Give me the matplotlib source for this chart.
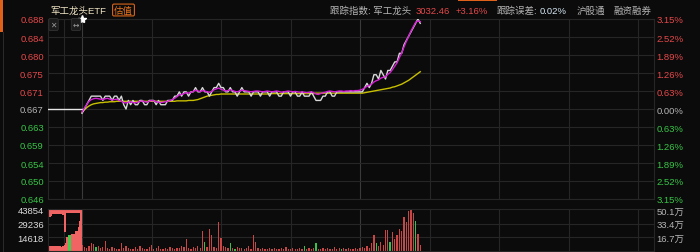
import numpy as np
import matplotlib
matplotlib.use("Agg")
import matplotlib.pyplot as plt
from matplotlib.patches import Rectangle

plt.rcParams['font.family'] = ['Liberation Sans', 'Noto Sans CJK SC', 'DejaVu Sans']

# 数据
prev_close = 0.667
pct_ticks = [-3.15, -2.52, -1.89, -1.26, -0.63, 0.00, 0.63, 1.26, 1.89, 2.52, 3.15]

price = [0.666, 0.667, 0.668, 0.669, 0.670, 0.670,
         0.670, 0.670, 0.670, 0.669, 0.670, 0.670, 0.670, 0.669, 0.670, 0.670, 0.669, 0.670,
         0.668, 0.667,
         0.669, 0.668, 0.669, 0.668, 0.668, 0.669, 0.669, 0.668, 0.668, 0.669, 0.669, 0.669,
         0.668, 0.669, 0.668, 0.668, 0.668, 0.669,
         0.669, 0.669, 0.670, 0.670, 0.671, 0.670, 0.671,
         0.671, 0.670, 0.671, 0.671, 0.672, 0.671, 0.671, 0.672, 0.671, 0.671, 0.670, 0.671,
         0.672, 0.672, 0.673, 0.672,
         0.672, 0.671, 0.671, 0.672, 0.671, 0.671, 0.670, 0.671, 0.672, 0.671, 0.671, 0.671,
         0.670, 0.671, 0.671,
         0.671, 0.670, 0.671, 0.671, 0.671, 0.670, 0.671, 0.671, 0.671, 0.670, 0.670, 0.671,
         0.671, 0.671, 0.670, 0.671, 0.671, 0.670, 0.670, 0.671, 0.670, 0.670, 0.670, 0.671,
         0.670, 0.669, 0.669, 0.669,
         0.670, 0.670, 0.671, 0.671, 0.670, 0.670, 0.671, 0.671, 0.671, 0.671, 0.671, 0.671,
         0.671, 0.671, 0.671, 0.671,
         0.671, 0.671, 0.672, 0.673, 0.672, 0.673, 0.675, 0.675, 0.674, 0.676, 0.675, 0.674,
         0.676, 0.676, 0.677, 0.678, 0.678, 0.680, 0.680, 0.682, 0.683, 0.684, 0.685, 0.686,
         0.687, 0.688, 0.687]

index_line = [0.6663, 0.6672, 0.6680, 0.6688, 0.6692, 0.6694,
              0.6695, 0.6694, 0.6693, 0.6692, 0.6694, 0.6695, 0.6693, 0.6691, 0.6692, 0.6693,
              0.6690, 0.6688,
              0.6685, 0.6684,
              0.6686, 0.6687, 0.6685, 0.6684, 0.6686, 0.6688, 0.6689, 0.6687, 0.6686, 0.6688,
              0.6690, 0.6689, 0.6687, 0.6686, 0.6685, 0.6686, 0.6687, 0.6688,
              0.6690, 0.6692, 0.6695, 0.6699, 0.6703, 0.6704, 0.6706,
              0.6708, 0.6707, 0.6709, 0.6711, 0.6714, 0.6712, 0.6711, 0.6713, 0.6712, 0.6710,
              0.6709, 0.6711, 0.6715, 0.6717, 0.6719, 0.6716,
              0.6714, 0.6712, 0.6713, 0.6715, 0.6713, 0.6711, 0.6710, 0.6712, 0.6714, 0.6713,
              0.6712, 0.6711, 0.6710, 0.6711, 0.6712,
              0.6712, 0.6711, 0.6710, 0.6711, 0.6712, 0.6711, 0.6710, 0.6711, 0.6712, 0.6711,
              0.6709, 0.6710, 0.6711, 0.6712, 0.6711, 0.6710, 0.6711, 0.6710, 0.6709, 0.6710,
              0.6709, 0.6708, 0.6709, 0.6710, 0.6708, 0.6705, 0.6704, 0.6706,
              0.6708, 0.6709, 0.6711, 0.6712, 0.6711, 0.6710, 0.6711, 0.6712, 0.6712, 0.6711,
              0.6712, 0.6712, 0.6713, 0.6712, 0.6713, 0.6713,
              0.6714, 0.6716, 0.6719, 0.6723, 0.6725, 0.6728, 0.6733, 0.6736, 0.6738, 0.6742,
              0.6744, 0.6745, 0.6751, 0.6755, 0.6762, 0.6770, 0.6778, 0.6790, 0.6801, 0.6815,
              0.6828, 0.6840, 0.6852, 0.6862, 0.6872, 0.6876, 0.6874]

avg_price = ([0.6662, 0.6668, 0.6673, 0.6677, 0.6680, 0.6682,
              0.6683, 0.6684, 0.6685, 0.6685, 0.6686,
              0.6686, 0.6687, 0.6687, 0.6687, 0.6688, 0.6688, 0.6688, 0.6688, 0.6688, 0.6688]
             + [0.6688] * 19
             + [0.6688, 0.6689, 0.6689, 0.6689, 0.6689, 0.6689, 0.6690, 0.6690, 0.6690]
             + [0.6691, 0.6692, 0.6694, 0.6696, 0.6698, 0.6700, 0.6701, 0.6702, 0.6703, 0.6704,
                0.6704, 0.6705]
             + [0.6705] * 20 + [0.6706] * 20 + [0.6707] * 19
             + [0.6707, 0.6707, 0.6708, 0.6709, 0.6710, 0.6711, 0.6712, 0.6713, 0.6714, 0.6715,
                0.6716, 0.6717, 0.6718, 0.6719, 0.6721, 0.6722, 0.6724, 0.6726, 0.6728, 0.6731,
                0.6734, 0.6737, 0.6741, 0.6745, 0.6749, 0.6753, 0.6757])

volume = [6400, 4300, 3200, 5300, 8600, 7500, 4300, 5300, 3200, 4300,
          10700, 3200, 2100, 4300, 3200, 2100, 2100, 8600, 3200, 5300,
          3200, 2100, 2100, 4300, 2100, 5300, 3200, 2100, 2100, 4300,
          6400, 2100, 3200, 5300, 2100, 2100, 3200, 2100, 4300, 3200,
          2100, 3200, 3200, 5300, 4300, 12800, 3200, 2100, 4300, 3200,
          5300, 3200, 21400, 9600, 4300, 23500, 17100, 4300, 3200, 31000,
          13900, 5300, 4300, 3200, 8600, 3200, 2100, 4300, 3200, 3200,
          2100, 3200, 5300, 2100, 17100, 9600, 3200, 2100, 3200, 2100,
          2100, 3200, 2100, 3200, 2100, 2100, 3200, 2100, 4300, 2100,
          2100, 3200, 2100, 2100, 3200, 2100, 5300, 2100, 3200, 2100,
          3200, 8600, 2100, 2100, 3200, 2100, 3200, 2100, 2100, 4300,
          2100, 3200, 2100, 3200, 2100, 3200, 2100, 2100, 3200, 2100,
          3200, 4300, 3200, 5300, 3200, 8600, 17100, 8600, 5300, 9600,
          6400, 22500, 22500, 9600, 20300, 12800, 17100, 23500, 21400, 36400,
          31000, 42800, 44900, 40600, 32100, 18200, 6400]
green_idx = [6, 53, 64, 66, 96, 101, 112, 127, 133, 144]

auction_matched = [5300, 5300, 5300, 5300, 5300, 5300, 5300, 5300, 5300, 4300, 5300, 6400,
                   8600, 15000, 17100, 17100, 18200, 18200, 18200, 21400, 21400, 25700, 32100, 44900]
auction_unmatched = [8600, 8600, 7500, 5300, 5300, 5300, 5300, 5300, 5300, 5300, 6400, 24600,
                     24600, 4300, 4300, 4300, 4300, 4300, 4300, 4300, 4300, 4300, 4300, 0]
auction_green = [14, 15]

vol_ticks = [14618, 29236, 43854]
vol_right = ['16.7万', '33.4万', '50.1万']

# 颜色
BG = '#0b0b0b'
GRID = '#262626'
GRID2 = '#3a3a3a'
RED = '#e5484a'
GREEN = '#38c447'
GRAY = '#b4b4b4'
W, H = 700, 253

fig = plt.figure(figsize=(W / 100, H / 100), dpi=100, facecolor=BG)


def fx(px):
    return px / W


def fy(py):
    return 1 - py / H


x0 = -14.68
x1 = 246.9
vgrid = [-7.8, 0, 30, 60, 90, 120, 150, 180, 210, 240]

# 分时图
ax = fig.add_axes([fx(48), fy(200), fx(654) - fx(48), (200 - 20) / H], facecolor=BG)
ticks = [prev_close * (1 + p / 100) for p in pct_ticks]
ax.set_xlim(x0, x1)
ax.set_ylim(ticks[0], ticks[-1])
for v in vgrid:
    ax.axvline(v, color=GRID2 if v in (0, 120) else GRID, lw=0.8, zorder=1)
for t in ticks:
    ax.axhline(t, color=GRID, lw=0.8, zorder=1)
for s in ax.spines.values():
    s.set_color(GRID)
    s.set_linewidth(0.8)

ax.plot([x0, 0], [prev_close, prev_close], color='#e6e6e6', lw=1.0, zorder=3)
ax.plot(np.arange(len(avg_price)), avg_price, color='#c8c000', lw=1.0, zorder=3)
ax.plot(np.arange(len(price)), price, color='#d8d8d8', lw=1.0, zorder=4)
ax.plot(np.arange(len(index_line)), index_line, color='#d21ed2', lw=1.0, zorder=5)
ax.plot([0], [ticks[-1]], marker='*', ms=6, color='white', zorder=6, clip_on=False)

ax.set_xticks([])
ax.set_yticks(ticks)
ax.set_yticklabels([f'{t:.3f}' for t in ticks], fontsize=6.8)
ax.tick_params(axis='y', length=0, pad=3)
for lab, p in zip(ax.get_yticklabels(), pct_ticks):
    lab.set_color(RED if p > 0 else (GREEN if p < 0 else GRAY))

axr = ax.twinx()
axr.set_ylim(ax.get_ylim())
axr.set_yticks(ticks)
axr.set_yticklabels([f'{abs(p):.2f}%' for p in pct_ticks], fontsize=6.8)
axr.tick_params(axis='y', length=0, pad=2)
for s in axr.spines.values():
    s.set_visible(False)
for lab, p in zip(axr.get_yticklabels(), pct_ticks):
    lab.set_color(RED if p > 0 else (GREEN if p < 0 else GRAY))

# 成交量
vmax = 44900
axv = fig.add_axes([fx(48), fy(252), fx(654) - fx(48), (252 - 210) / H], facecolor=BG)
axv.set_xlim(x0, x1)
axv.set_ylim(0, vmax)
for v in vgrid:
    axv.axvline(v, color=GRID2 if v in (0, 120) else GRID, lw=0.8, zorder=1)
for t in vol_ticks[:2]:
    axv.axhline(t, color=GRID, lw=0.8, zorder=1)
for s in axv.spines.values():
    s.set_color(GRID)
    s.set_linewidth(0.8)

vx = np.arange(len(volume))
vcol = ['#3cc04a' if i in green_idx else '#c94646' for i in range(len(volume))]
axv.bar(vx, volume, width=0.55, color=vcol, linewidth=0, zorder=2)

ax_pos = np.linspace(-14.3, -0.4, len(auction_matched))
acol = ['#3ccf50' if i in auction_green else '#f06464' for i in range(len(auction_matched))]
axv.bar(ax_pos, auction_matched, width=0.62, color=acol, linewidth=0, zorder=2)
axv.bar(ax_pos, auction_unmatched, bottom=[vmax - u for u in auction_unmatched],
        width=0.62, color='#f06464', linewidth=0, zorder=2)

axv.set_xticks([])
axv.set_yticks(vol_ticks)
axv.set_yticklabels([str(t) for t in vol_ticks], fontsize=6.8, color='#dcdcdc')
axv.tick_params(axis='y', length=0, pad=3)
axvr = axv.twinx()
axvr.set_ylim(0, vmax)
axvr.set_yticks(vol_ticks)
axvr.set_yticklabels(vol_right, fontsize=6.8, color=GRAY)
axvr.tick_params(axis='y', length=0, pad=2)
for s in axvr.spines.values():
    s.set_visible(False)

# 顶部信息
fs = 6.8
fig.text(fx(50), fy(11), '军工龙头ETF', color='#efe4c4', fontsize=fs, va='center')
fig.text(fx(114), fy(11), '估值', color='#e8741e', fontsize=fs, va='center',
         bbox=dict(boxstyle='round,pad=0.15', fc='none', ec='#d8641a', lw=0.8))
fig.text(fx(330), fy(11), '跟踪指数: 军工龙头', color=GRAY, fontsize=fs, va='center')
fig.text(fx(416), fy(11), '3032.46', color=RED, fontsize=fs, va='center')
fig.text(fx(456), fy(11), '+3.16%', color=RED, fontsize=fs, va='center')
fig.text(fx(497), fy(11), '跟踪误差:', color=GRAY, fontsize=fs, va='center')
fig.text(fx(540), fy(11), '0.02%', color='#d6e8f4', fontsize=fs, va='center')
fig.text(fx(577), fy(11), '沪股通', color=GRAY, fontsize=fs, va='center')
fig.text(fx(613), fy(11), '融资融券', color=GRAY, fontsize=fs, va='center')

fig.text(fx(53.5), fy(25.5), '✕', color='#9a9a9a', fontsize=5.5, ha='center', va='center',
         family='DejaVu Sans',
         bbox=dict(boxstyle='round,pad=0.2', fc='#1c1c1c', ec='#333333', lw=0.6))
fig.text(fx(76), fy(25.5), '↔', color='#9a9a9a', fontsize=5.5, ha='center', va='center',
         family='DejaVu Sans',
         bbox=dict(boxstyle='round,pad=0.2', fc='#1c1c1c', ec='#333333', lw=0.6))

fig.add_artist(Rectangle((0, fy(33)), fx(3), 33 / H, transform=fig.transFigure,
                         color='#e0621a', lw=0))
fig.add_artist(Rectangle((fx(458), fy(1.5)), fx(39), 1.5 / H, transform=fig.transFigure,
                         color='#e0621a', lw=0))
fig.add_artist(Rectangle((fx(3), 0), fx(1), fy(33), transform=fig.transFigure,
                         color='#2a2a2a', lw=0))

fig.savefig('out.png', dpi=100, facecolor=BG)
